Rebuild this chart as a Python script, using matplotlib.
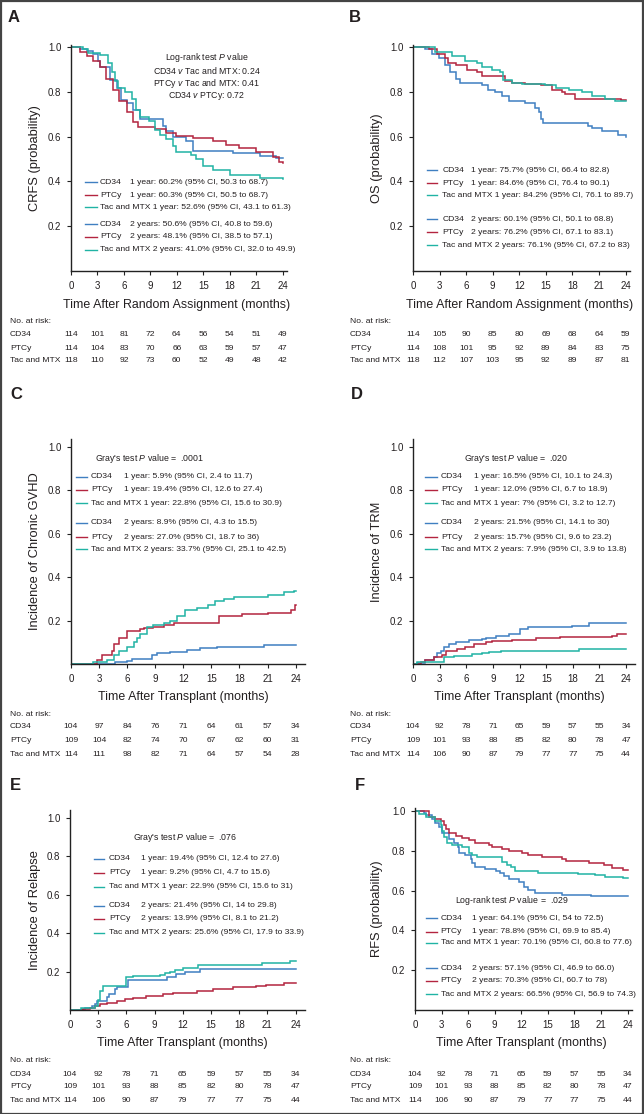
import matplotlib
matplotlib.use("Agg")
import matplotlib.pyplot as plt
from matplotlib.transforms import blended_transform_factory
from matplotlib.patches import Rectangle

plt.rcParams['font.family'] = ['Liberation Sans', 'DejaVu Sans']
plt.rcParams['mathtext.fontset'] = 'custom'
plt.rcParams['mathtext.rm'] = 'Liberation Sans'
plt.rcParams['mathtext.it'] = 'Liberation Sans:italic'

BLUE, RED, TEAL = '#3f7fc1', '#b3243f', '#20b3a4'
INK = '#231f20'
groups = ['CD34', 'PTCy', 'Tac and MTX']
colors = [BLUE, RED, TEAL]
months = [0, 3, 6, 9, 12, 15, 18, 21, 24]

# ---- A: CRFS ----
a_cd34_t = [0, 1.0, 1.8, 2.5, 3.1, 3.3, 4.4, 5.2, 5.7, 6.3, 7.0, 7.8, 10.4, 10.8, 11.6, 13.1, 13.8, 18.4, 21.4, 23.2, 24]
a_cd34_v = [1.0, 0.99, 0.985, 0.97, 0.94, 0.91, 0.855, 0.82, 0.765, 0.75, 0.72, 0.68, 0.646, 0.625, 0.60, 0.58, 0.537, 0.527, 0.515, 0.505, 0.505]
a_ptcy_t = [0, 1.0, 1.8, 2.5, 3.3, 4.0, 4.8, 5.5, 6.3, 7.0, 7.6, 9.5, 10.8, 11.9, 13.8, 16.1, 17.6, 19.1, 21.0, 22.9, 23.6, 24]
a_ptcy_v = [1.0, 0.98, 0.96, 0.94, 0.91, 0.86, 0.81, 0.76, 0.71, 0.665, 0.645, 0.635, 0.615, 0.605, 0.595, 0.58, 0.565, 0.55, 0.53, 0.51, 0.485, 0.481]
a_tac_t = [0, 1.4, 1.96, 3.3, 4.2, 4.6, 5.0, 5.35, 6.1, 6.9, 7.4, 7.8, 8.9, 9.5, 10.1, 10.8, 11.6, 11.9, 13.6, 14.2, 15.0, 16.1, 18.0, 21.4, 24]
a_tac_v = [1.0, 0.99, 0.975, 0.965, 0.93, 0.89, 0.85, 0.82, 0.80, 0.77, 0.72, 0.69, 0.67, 0.63, 0.61, 0.59, 0.56, 0.53, 0.52, 0.50, 0.47, 0.45, 0.43, 0.415, 0.41]

# ---- B: OS ----
b_cd34_t = [0, 1.4, 2.1, 2.9, 3.6, 4.2, 4.8, 5.3, 5.9, 7.8, 8.5, 9.3, 10.0, 10.8, 12.7, 13.8, 14.2, 14.5, 14.7, 19.8, 20.2, 21.3, 23.2, 24]
b_cd34_v = [1.0, 0.99, 0.97, 0.95, 0.92, 0.89, 0.86, 0.84, 0.84, 0.83, 0.81, 0.80, 0.78, 0.76, 0.75, 0.73, 0.71, 0.68, 0.66, 0.65, 0.64, 0.625, 0.61, 0.60]
b_ptcy_t = [0, 1.8, 2.7, 3.6, 4.0, 4.8, 6.1, 7.2, 7.8, 10.4, 11.2, 12.7, 14.5, 15.7, 16.8, 17.2, 18.3, 23.5, 24]
b_ptcy_v = [1.0, 0.99, 0.97, 0.95, 0.93, 0.92, 0.90, 0.89, 0.87, 0.85, 0.84, 0.835, 0.83, 0.81, 0.80, 0.79, 0.77, 0.762, 0.762]
b_tac_t = [0, 2.5, 4.4, 5.9, 7.2, 7.8, 8.9, 9.85, 10.2, 11.2, 12.3, 14.9, 16.1, 17.6, 19.1, 20.2, 21.7, 22.8, 24]
b_tac_v = [1.0, 0.98, 0.96, 0.94, 0.93, 0.91, 0.90, 0.89, 0.855, 0.84, 0.835, 0.83, 0.82, 0.81, 0.80, 0.78, 0.77, 0.761, 0.761]

# ---- C: chronic GVHD ----
c_cd34_t = [0, 4.7, 6.0, 6.5, 8.7, 9.2, 10.6, 12.4, 13.8, 15.6, 20.6, 24]
c_cd34_v = [0, 0.01, 0.015, 0.025, 0.04, 0.05, 0.055, 0.065, 0.075, 0.08, 0.089, 0.089]
c_ptcy_t = [0, 2.8, 3.3, 4.4, 4.6, 5.1, 6.0, 7.4, 7.8, 8.8, 9.9, 11.0, 15.8, 18.3, 21.0, 23.5, 23.9, 24]
c_ptcy_v = [0, 0.02, 0.04, 0.06, 0.09, 0.12, 0.15, 0.16, 0.166, 0.17, 0.18, 0.19, 0.22, 0.23, 0.235, 0.25, 0.27, 0.27]
c_tac_t = [0, 2.4, 3.85, 4.6, 5.1, 6.0, 6.7, 7.1, 7.4, 8.1, 8.8, 9.9, 10.6, 11.3, 12.2, 13.5, 14.6, 15.4, 16.3, 17.4, 21.0, 22.8, 23.8, 24]
c_tac_v = [0, 0.01, 0.02, 0.04, 0.06, 0.08, 0.10, 0.12, 0.14, 0.17, 0.18, 0.19, 0.20, 0.22, 0.25, 0.26, 0.27, 0.29, 0.30, 0.31, 0.32, 0.33, 0.337, 0.337]

# ---- D: TRM ----
d_cd34_t = [0, 0.5, 1.4, 2.4, 2.7, 3.1, 3.5, 4.0, 4.8, 6.3, 7.8, 8.2, 9.3, 10.8, 12.1, 13.0, 17.9, 19.8, 24]
d_cd34_v = [0, 0.005, 0.02, 0.03, 0.05, 0.06, 0.08, 0.09, 0.10, 0.11, 0.115, 0.12, 0.13, 0.14, 0.16, 0.17, 0.175, 0.19, 0.19]
d_ptcy_t = [0, 0.9, 1.4, 2.4, 3.3, 3.7, 5.0, 5.9, 6.9, 8.2, 8.9, 11.2, 13.8, 16.6, 22.4, 23.0, 24]
d_ptcy_v = [0, 0.01, 0.02, 0.03, 0.04, 0.06, 0.07, 0.08, 0.09, 0.10, 0.105, 0.11, 0.12, 0.125, 0.13, 0.14, 0.14]
d_tac_t = [0, 0.5, 3.5, 4.6, 6.7, 7.8, 8.6, 9.9, 18.7, 24]
d_tac_v = [0, 0.01, 0.03, 0.035, 0.045, 0.05, 0.055, 0.06, 0.07, 0.07]

# ---- E: relapse ----
e_cd34_t = [0, 1.6, 2.3, 2.65, 2.9, 3.9, 4.2, 4.8, 5.0, 6.2, 10.3, 11.3, 12.2, 13.8, 24]
e_cd34_v = [0, 0.01, 0.02, 0.03, 0.047, 0.07, 0.085, 0.11, 0.12, 0.155, 0.17, 0.185, 0.20, 0.214, 0.214]
e_ptcy_t = [0, 1.4, 2.1, 2.65, 3.2, 3.9, 5.0, 5.8, 6.7, 8.1, 9.9, 11.0, 13.5, 15.2, 17.3, 19.8, 20.9, 22.8, 24]
e_ptcy_v = [0, 0.005, 0.01, 0.02, 0.03, 0.035, 0.045, 0.055, 0.065, 0.075, 0.085, 0.09, 0.10, 0.11, 0.12, 0.125, 0.13, 0.139, 0.139]
e_tac_t = [0, 1.2, 2.65, 3.0, 3.2, 3.5, 6.0, 6.7, 9.6, 10.1, 10.6, 11.2, 12.0, 13.6, 20.4, 23.4, 24]
e_tac_v = [0, 0.01, 0.02, 0.05, 0.10, 0.125, 0.17, 0.175, 0.18, 0.19, 0.20, 0.21, 0.22, 0.234, 0.245, 0.256, 0.256]

# ---- F: RFS ----
f_cd34_t = [0, 1.0, 1.2, 1.95, 2.3, 2.7, 3.1, 3.8, 4.4, 4.8, 4.95, 5.7, 6.3, 6.45, 6.8, 7.95, 9.1, 9.6, 10.0, 10.6, 11.7, 12.3, 12.8, 13.6, 16.6, 19.9, 24]
f_cd34_v = [1.0, 0.99, 0.98, 0.96, 0.94, 0.92, 0.89, 0.86, 0.84, 0.82, 0.79, 0.78, 0.76, 0.74, 0.72, 0.71, 0.70, 0.69, 0.675, 0.66, 0.645, 0.62, 0.605, 0.59, 0.58, 0.571, 0.571]
f_ptcy_t = [0, 1.6, 2.3, 2.9, 3.3, 3.45, 3.8, 4.6, 5.3, 6.1, 6.8, 8.3, 8.7, 9.8, 10.6, 12.1, 12.8, 14.3, 16.6, 17.0, 19.6, 21.3, 22.2, 23.5, 24]
f_ptcy_v = [1.0, 0.97, 0.96, 0.95, 0.93, 0.91, 0.89, 0.875, 0.865, 0.855, 0.84, 0.83, 0.82, 0.81, 0.80, 0.79, 0.78, 0.77, 0.76, 0.75, 0.74, 0.73, 0.715, 0.703, 0.703]
f_tac_t = [0, 0.45, 1.2, 2.3, 2.9, 3.1, 3.3, 3.6, 4.2, 5.3, 6.1, 6.45, 7.0, 9.8, 10.4, 10.8, 11.3, 13.9, 18.4, 20.3, 21.4, 23.5, 24]
f_tac_v = [1.0, 0.985, 0.97, 0.95, 0.93, 0.90, 0.87, 0.84, 0.83, 0.82, 0.79, 0.78, 0.77, 0.745, 0.73, 0.72, 0.70, 0.69, 0.685, 0.68, 0.67, 0.665, 0.665]

# ---- number at risk ----
risk_a = [[114, 101, 81, 72, 64, 56, 54, 51, 49],
          [114, 104, 83, 70, 66, 63, 59, 57, 47],
          [118, 110, 92, 73, 60, 52, 49, 48, 42]]
risk_b = [[114, 105, 90, 85, 80, 69, 68, 64, 59],
          [114, 108, 101, 95, 92, 89, 84, 83, 75],
          [118, 112, 107, 103, 95, 92, 89, 87, 81]]
risk_c = [[104, 97, 84, 76, 71, 64, 61, 57, 34],
          [109, 104, 82, 74, 70, 67, 62, 60, 31],
          [114, 111, 98, 82, 71, 64, 57, 54, 28]]
risk_def = [[104, 92, 78, 71, 65, 59, 57, 55, 34],
            [109, 101, 93, 88, 85, 82, 80, 78, 47],
            [114, 106, 90, 87, 79, 77, 77, 75, 44]]

# ---- legend statistics ----
stats_a = ["1 year: 60.2% (95% CI, 50.3 to 68.7)", "1 year: 60.3% (95% CI, 50.5 to 68.7)", "1 year: 52.6% (95% CI, 43.1 to 61.3)",
           "2 years: 50.6% (95% CI, 40.8 to 59.6)", "2 years: 48.1% (95% CI, 38.5 to 57.1)", "2 years: 41.0% (95% CI, 32.0 to 49.9)"]
stats_b = ["1 year: 75.7% (95% CI, 66.4 to 82.8)", "1 year: 84.6% (95% CI, 76.4 to 90.1)", "1 year: 84.2% (95% CI, 76.1 to 89.7)",
           "2 years: 60.1% (95% CI, 50.1 to 68.8)", "2 years: 76.2% (95% CI, 67.1 to 83.1)", "2 years: 76.1% (95% CI, 67.2 to 83)"]
stats_c = ["1 year: 5.9% (95% CI, 2.4 to 11.7)", "1 year: 19.4% (95% CI, 12.6 to 27.4)", "1 year: 22.8% (95% CI, 15.6 to 30.9)",
           "2 years: 8.9% (95% CI, 4.3 to 15.5)", "2 years: 27.0% (95% CI, 18.7 to 36)", "2 years: 33.7% (95% CI, 25.1 to 42.5)"]
stats_d = ["1 year: 16.5% (95% CI, 10.1 to 24.3)", "1 year: 12.0% (95% CI, 6.7 to 18.9)", "1 year: 7% (95% CI, 3.2 to 12.7)",
           "2 years: 21.5% (95% CI, 14.1 to 30)", "2 years: 15.7% (95% CI, 9.6 to 23.2)", "2 years: 7.9% (95% CI, 3.9 to 13.8)"]
stats_e = ["1 year: 19.4% (95% CI, 12.4 to 27.6)", "1 year: 9.2% (95% CI, 4.7 to 15.6)", "1 year: 22.9% (95% CI, 15.6 to 31)",
           "2 years: 21.4% (95% CI, 14 to 29.8)", "2 years: 13.9% (95% CI, 8.1 to 21.2)", "2 years: 25.6% (95% CI, 17.9 to 33.9)"]
stats_f = ["1 year: 64.1% (95% CI, 54 to 72.5)", "1 year: 78.8% (95% CI, 69.9 to 85.4)", "1 year: 70.1% (95% CI, 60.8 to 77.6)",
           "2 years: 57.1% (95% CI, 46.9 to 66.0)", "2 years: 70.3% (95% CI, 60.7 to 78)", "2 years: 66.5% (95% CI, 56.9 to 74.3)"]

W, H = 644, 1114
FS = 6.1  # small text size
fig = plt.figure(figsize=(W / 100, H / 100), dpi=100)


def px(x, y):
    return x / W, 1 - y / H


def panel(box, xmax, ymax, curves, letter, letter_xy, ylabel, ylab_x, xlabel, xlab_y,
          risk, risk_lx, risk_y, stats, leg, test_lines, test_xy, test_ha):
    l, t, r, b = box
    ax = fig.add_axes([l / W, 1 - b / H, (r - l) / W, (b - t) / H])
    for (tt, vv), c in zip(curves, colors):
        ax.step(tt, vv, where='post', color=c, lw=1.1, solid_joinstyle='miter')
    ax.set_xlim(0, xmax)
    ax.set_ylim(0, ymax)
    ax.set_xticks(months)
    ax.set_yticks([0.2, 0.4, 0.6, 0.8, 1.0])
    ax.set_yticklabels(['0.2', '0.4', '0.6', '0.8', '1.0'])
    for s in ['top', 'right']:
        ax.spines[s].set_visible(False)
    for s in ['left', 'bottom']:
        ax.spines[s].set_linewidth(1.0)
        ax.spines[s].set_color('#222222')
    ax.tick_params(labelsize=7, length=3, width=0.8, colors='#222222', labelcolor=INK, pad=4)
    ax.patch.set_alpha(0)

    # legend block
    x0, x1, xl, xs, rows = leg
    for i, (s, y) in enumerate(zip(stats, rows)):
        g = i % 3
        ax.plot([x0, x1], [y, y], color=colors[g], lw=1.0, clip_on=False)
        if g < 2:
            ax.text(xl, y, groups[g], fontsize=FS, color=INK, va='center')
            ax.text(xs, y, s, fontsize=FS, color=INK, va='center')
        else:
            ax.text(xl, y, groups[g] + ' ' + s, fontsize=FS, color=INK, va='center')

    # test text
    tx, ty, dy = test_xy
    for k, line in enumerate(test_lines):
        ax.text(tx, ty - k * dy, line, fontsize=FS + 0.2, color=INK, ha=test_ha, va='center')

    # labels
    fig.text(*px(*letter_xy), letter, fontsize=12, fontweight='bold', color=INK, va='center')
    fig.text(*px(ylab_x, (t + b) / 2), ylabel, fontsize=9.3, rotation=90, color=INK,
             ha='center', va='center')
    xc = l + (r - l) * 24 / xmax / 2
    fig.text(*px(xc, xlab_y), xlabel, fontsize=8.9, color=INK, ha='center', va='center')

    # number at risk table
    tr = blended_transform_factory(ax.transData, fig.transFigure)
    fig.text(*px(risk_lx, risk_y[0]), 'No. at risk:', fontsize=FS, color=INK, va='center')
    for g in range(3):
        y = risk_y[g + 1]
        fig.text(*px(risk_lx, y), groups[g], fontsize=FS, color=INK, va='center')
        for m, n in zip(months, risk[g]):
            ax.text(m, 1 - y / H, str(n), transform=tr, fontsize=FS, color=INK,
                    ha='center', va='center')
    return ax


logrank_a = ['Log-rank test $\\mathit{P}$ value', 'CD34 $\\mathit{v}$ Tac and MTX: 0.24',
             'PTCy $\\mathit{v}$ Tac and MTX: 0.41', 'CD34 $\\mathit{v}$ PTCy: 0.72']

panel((71, 45, 287, 271), 24.5, 1.01,
      [(a_cd34_t, a_cd34_v), (a_ptcy_t, a_ptcy_v), (a_tac_t, a_tac_v)],
      'A', (8, 18), 'CRFS (probability)', 35, 'Time After Random Assignment (months)', 305,
      risk_a, 10, [322, 335, 348, 361], stats_a,
      (1.6, 2.95, 3.3, 6.7, [0.397, 0.339, 0.286, 0.21, 0.152, 0.094]),
      logrank_a, (15.4, 0.955, 0.058), 'center')

panel((413, 45, 630, 271), 24.5, 1.01,
      [(b_cd34_t, b_cd34_v), (b_ptcy_t, b_ptcy_v), (b_tac_t, b_tac_v)],
      'B', (349, 18), 'OS (probability)', 377, 'Time After Random Assignment (months)', 305,
      risk_b, 350, [322, 335, 348, 361], stats_b,
      (1.6, 2.7, 3.3, 6.6, [0.451, 0.393, 0.339, 0.232, 0.174, 0.116]),
      [], (0, 0, 0), 'left')

panel((71, 439, 305, 664), 25, 1.037,
      [(c_cd34_t, c_cd34_v), (c_ptcy_t, c_ptcy_v), (c_tac_t, c_tac_v)],
      'C', (10, 395), 'Incidence of Chronic GVHD', 35, 'Time After Transplant (months)', 697,
      risk_c, 10, [714, 727, 740, 754], stats_c,
      (0.54, 1.7, 2.14, 5.66, [0.862, 0.802, 0.742, 0.650, 0.585, 0.530]),
      ["Gray's test $\\mathit{P}$ value =  .0001"], (2.57, 0.949, 0), 'left')

panel((413, 439, 635, 664), 25, 1.037,
      [(d_cd34_t, d_cd34_v), (d_ptcy_t, d_ptcy_v), (d_tac_t, d_tac_v)],
      'D', (351, 395), 'Incidence of TRM', 377, 'Time After Transplant (months)', 697,
      risk_def, 350, [714, 727, 740, 754], stats_d,
      (1.35, 2.7, 3.15, 6.9, [0.862, 0.802, 0.742, 0.650, 0.585, 0.530]),
      ["Gray's test $\\mathit{P}$ value =  .020"], (5.75, 0.949, 0), 'left')

panel((70, 810, 305, 1010), 25, 1.04,
      [(e_cd34_t, e_cd34_v), (e_ptcy_t, e_ptcy_v), (e_tac_t, e_tac_v)],
      'E', (10, 786), 'Incidence of Relapse', 35, 'Time After Transplant (months)', 1043,
      risk_def, 10, [1061, 1074, 1087, 1100], stats_e,
      (2.55, 3.6, 4.15, 7.6, [0.786, 0.714, 0.641, 0.542, 0.474, 0.401]),
      ["Gray's test $\\mathit{P}$ value =  .076"], (6.7, 0.896, 0), 'left')

panel((415, 808, 632, 1010), 24.5, 1.015,
      [(f_cd34_t, f_cd34_v), (f_ptcy_t, f_ptcy_v), (f_tac_t, f_tac_v)],
      'F', (355, 786), 'RFS (probability)', 377, 'Time After Transplant (months)', 1043,
      risk_def, 350, [1061, 1074, 1087, 1100], stats_f,
      (1.24, 2.5, 2.9, 6.4, [0.462, 0.392, 0.337, 0.211, 0.146, 0.080]),
      ["Log-rank test $\\mathit{P}$ value =  .029"], (4.5, 0.548, 0), 'left')

fig.patches.append(Rectangle((0.5 / W, 0.5 / H), 1 - 1.5 / W, 1 - 1.5 / H, transform=fig.transFigure,
                             fill=False, edgecolor='#444444', lw=1.6))

fig.savefig('out.png', dpi=100)
